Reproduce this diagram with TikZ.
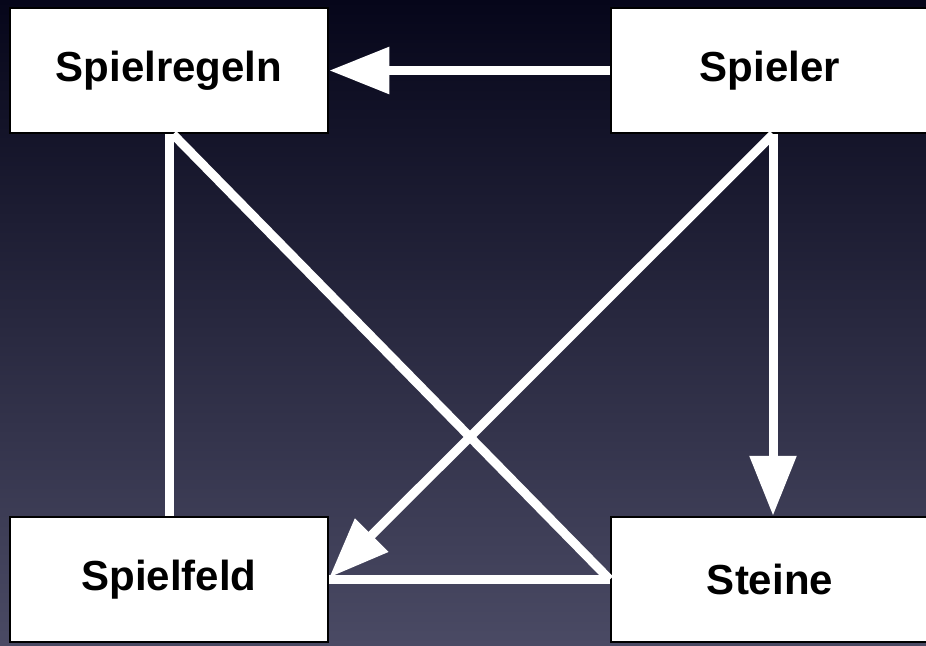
\documentclass[tikz,border=0pt]{standalone}
\usepackage{fontspec}
\setmainfont{Liberation Sans}
\usetikzlibrary{arrows.meta}
\definecolor{bgtop}{RGB}{6,6,26}
\definecolor{bgmid}{RGB}{34,34,60}
\definecolor{bgbot}{RGB}{74,74,100}
\tikzset{
  entity/.style={draw=black, line width=2.5pt, fill=white,
    minimum width=318pt, minimum height=125pt, inner sep=0pt,
    font=\fontsize{42}{48}\selectfont\bfseries, text=black},
  link/.style={draw=white, line width=9pt},
  flow/.style={link, -{Triangle[length=60pt, width=45pt]}}
}
\begin{document}
\begin{tikzpicture}[x=1pt, y=-1pt]
  % backdrop: dark navy fading to slate
  \useasboundingbox (0,0) rectangle (926,645);
  \clip (0,0) rectangle (926,645);
  \shade[top color=bgtop, middle color=bgmid, bottom color=bgbot]
    (0,0) rectangle (926,645);

  % the four parts of the game
  \node[entity] (regeln) at (169,70.5)  {Spielregeln};
  \node[entity] (spieler) at (770,70.5) {Spieler};
  \node[entity] (feld) at (169,579.5)   {Spielfeld};
  \node[entity] (steine) at (770,579.5) {Steine};

  % plain relations
  \draw[link] (regeln.south) -- (feld.north);
  \draw[link] ([xshift=4pt]regeln.south) -- (steine.west);
  \draw[link] (feld.east) -- (steine.west);

  % directed relations from the player
  \draw[flow] (spieler.west) -- (regeln.east);
  \draw[flow] ([xshift=3pt]spieler.south) -- ([xshift=3pt]steine.north);
  \draw[flow] ([xshift=3pt]spieler.south) -- ([yshift=2pt]feld.east);
\end{tikzpicture}
\end{document}
